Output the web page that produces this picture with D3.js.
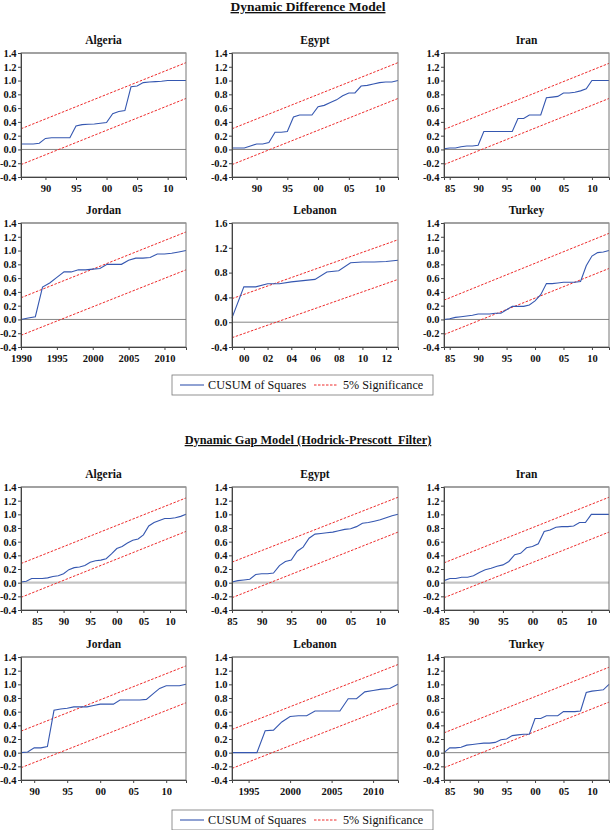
<!DOCTYPE html>
<html><head><meta charset="utf-8">
<script src="https://cdn.jsdelivr.net/npm/d3@7"></script>
<style>
body{margin:0;background:#fff;}
svg text{font-family:"Liberation Serif","Times New Roman",serif;white-space:pre;}
</style>
</head><body>
<svg id="chart" width="610" height="830"></svg>
<script>
// ---------------- DATA ----------------
const titles = ["Dynamic Difference Model", "Dynamic Gap Model (Hodrick-Prescott  Filter)"];
const countries = ["Algeria", "Egypt", "Iran", "Jordan", "Lebanon", "Turkey"];
const legendLabels = ["CUSUM of Squares", "5% Significance"];

// Dynamic Difference Model: CUSUM of squares (first year + yearly values)
const ddStart = [1986, 1986, 1984, 1990, 1999, 1984];
const ddAlgeria = [0.08,0.08,0.08,0.09,0.16,0.17,0.17,0.17,0.17,0.34,0.36,0.365,0.37,0.38,0.39,0.52,0.55,0.565,0.91,0.92,0.97,0.98,0.985,0.99,1.0,1.0,1.0,1.0];
const ddEgypt = [0.02,0.02,0.02,0.05,0.08,0.08,0.10,0.25,0.25,0.26,0.47,0.50,0.50,0.50,0.62,0.64,0.68,0.72,0.78,0.82,0.82,0.92,0.93,0.95,0.97,0.98,0.98,1.0];
const ddIran = [0.01,0.02,0.02,0.04,0.05,0.05,0.06,0.26,0.26,0.26,0.26,0.26,0.26,0.45,0.45,0.50,0.50,0.50,0.75,0.76,0.77,0.82,0.82,0.83,0.85,0.88,1.0,1.0,1.0,1.0];
const ddJordan = [0.0,0.02,0.04,0.47,0.53,0.61,0.69,0.69,0.72,0.72,0.73,0.74,0.80,0.80,0.80,0.86,0.89,0.89,0.90,0.95,0.95,0.96,0.98,1.0];
const ddLebanon = [0.07,0.57,0.57,0.62,0.62,0.65,0.67,0.69,0.81,0.83,0.96,0.97,0.97,0.98,1.0];
const ddTurkey = [0.0,0.01,0.03,0.04,0.05,0.06,0.08,0.08,0.08,0.09,0.09,0.14,0.19,0.19,0.19,0.21,0.27,0.36,0.52,0.52,0.53,0.54,0.54,0.54,0.55,0.78,0.92,0.97,0.98,1.0];
// 5% significance bounds: [upper start, upper end, lower start, lower end]
const ddBounds = [[0.30,1.26,-0.22,0.74],[0.30,1.26,-0.22,0.74],[0.29,1.25,-0.22,0.74],[0.315,1.27,-0.23,0.72],[0.38,1.33,-0.25,0.69],[0.28,1.25,-0.22,0.74]];

// Dynamic Gap Model (HP filter)
const hpStart = [1982, 1985, 1985, 1988, 1993, 1984];
const hpAlgeria = [0.01,0.02,0.06,0.06,0.06,0.07,0.09,0.10,0.13,0.19,0.22,0.23,0.25,0.30,0.32,0.33,0.35,0.42,0.50,0.53,0.58,0.62,0.64,0.70,0.83,0.88,0.91,0.94,0.94,0.95,0.97,1.0];
const hpEgypt = [0.01,0.03,0.04,0.05,0.12,0.13,0.13,0.14,0.25,0.31,0.33,0.46,0.52,0.65,0.71,0.72,0.73,0.74,0.76,0.78,0.79,0.82,0.87,0.88,0.90,0.92,0.95,0.98,1.0];
const hpIran = [0.03,0.06,0.06,0.08,0.08,0.10,0.15,0.19,0.21,0.24,0.26,0.31,0.41,0.43,0.51,0.53,0.57,0.75,0.77,0.81,0.82,0.82,0.83,0.88,0.88,1.0,1.0,1.0,1.0];
const hpJordan = [0.0,0.01,0.07,0.07,0.09,0.62,0.64,0.65,0.67,0.67,0.67,0.69,0.71,0.71,0.71,0.77,0.77,0.77,0.77,0.78,0.86,0.94,0.98,0.98,0.98,1.0];
const hpLebanon = [0,0,0,0,0.32,0.33,0.45,0.53,0.54,0.54,0.61,0.61,0.61,0.61,0.79,0.79,0.89,0.91,0.93,0.94,1.0];
const hpTurkey = [0.0,0.07,0.07,0.08,0.11,0.12,0.13,0.14,0.14,0.15,0.19,0.20,0.25,0.26,0.27,0.27,0.50,0.50,0.54,0.54,0.54,0.60,0.60,0.60,0.61,0.88,0.90,0.91,0.92,1.0];
const hpBounds = [[0.28,1.24,-0.215,0.75],[0.30,1.25,-0.22,0.74],[0.29,1.25,-0.22,0.74],[0.315,1.27,-0.22,0.73],[0.34,1.29,-0.23,0.72],[0.29,1.25,-0.22,0.74]];

// Tick values
const yTicksStd = [-0.4,-0.2,0.0,0.2,0.4,0.6,0.8,1.0,1.2,1.4];
const yTicksLeb = [-0.4,0.0,0.4,0.8,1.2,1.6];
const ddXTicks = [[1990,1995,2000,2005,2010],[1990,1995,2000,2005,2010],[1985,1990,1995,2000,2005,2010],[1990,1995,2000,2005,2010],[2000,2002,2004,2006,2008,2010,2012],[1985,1990,1995,2000,2005,2010]];
const hpXTicks = [[1985,1990,1995,2000,2005,2010],[1985,1990,1995,2000,2005,2010],[1985,1990,1995,2000,2005,2010],[1990,1995,2000,2005,2010],[1995,2000,2005,2010],[1985,1990,1995,2000,2005,2010]];
const ddXFull = [false,false,false,true,false,false];
const hpXFull = [false,false,false,false,true,false];

// ---------------- LAYOUT ----------------
const svg = d3.select("#chart");
const cols = [[21,186],[232,398],[444,609]];
const rows = [[53,177],[223,347],[487,610],[657,780]];
const blue = "#3557b0", red = "#ee2a2a";

function drawPanel(rowIdx, colIdx, name, start, vals, bounds, yTicks, yMax, xTicks, fullYear, zeroStyle){
  const [x0,x1] = cols[colIdx], [y0,y1] = rows[rowIdx];
  const years = vals.map((v,i)=>start+i);
  const end = years[years.length-1];
  const x = d3.scaleLinear().domain([start,end]).range([x0,x1]);
  const y = d3.scaleLinear().domain([-0.4,yMax]).range([y1,y0]);
  const g = svg.append("g");
  g.append("text").attr("x",(x0+x1)/2).attr("y",y0-9).attr("text-anchor","middle")
    .attr("font-size",11.5).attr("font-weight","bold").attr("fill","#111").text(name);
  g.append("line").attr("x1",x0).attr("x2",x1).attr("y1",y(0)).attr("y2",y(0))
    .attr("stroke",zeroStyle.color).attr("stroke-width",zeroStyle.w);
  const sig = d3.line().x(d=>x(d[0])).y(d=>y(d[1]));
  [[bounds[0],bounds[1]],[bounds[2],bounds[3]]].forEach(b=>{
    g.append("path").attr("d",sig([[start,b[0]],[end,b[1]]]))
      .attr("fill","none").attr("stroke",red).attr("stroke-width",1).attr("stroke-dasharray","2.5,1.5");
  });
  const ln = d3.line().x((d,i)=>x(years[i])).y(d=>y(d));
  g.append("path").attr("d",ln(vals)).attr("fill","none").attr("stroke",blue).attr("stroke-width",1.1);
  g.append("rect").attr("x",x0).attr("y",y0).attr("width",x1-x0).attr("height",y1-y0)
    .attr("fill","none").attr("stroke","#777").attr("stroke-width",1);
  g.append("line").attr("x1",x0).attr("x2",x1).attr("y1",y0).attr("y2",y0).attr("stroke","#999").attr("stroke-width",1.5);
  const ya = d3.axisLeft(y).tickValues(yTicks).tickSize(3).tickFormat(d=>d.toFixed(1).replace("-0.0","0.0"));
  const yg = g.append("g").attr("transform",`translate(${x0},0)`).call(ya);
  yg.select(".domain").attr("stroke","#444");
  yg.selectAll(".tick line").attr("stroke","#444");
  yg.selectAll("text").attr("font-size",10.5).attr("font-weight","bold").attr("fill","#111")
    .attr("font-family","Liberation Serif, serif").attr("dx","1.5");
  const xa = d3.axisBottom(x).tickValues(xTicks).tickSize(3)
    .tickFormat(d=> fullYear ? String(d) : String(d%100).padStart(2,"0"));
  const xg = g.append("g").attr("transform",`translate(0,${y1})`).call(xa);
  xg.select(".domain").attr("stroke","#444");
  xg.selectAll(".tick line").attr("stroke","#444");
  xg.selectAll("text").attr("font-size",10.5).attr("font-weight","bold").attr("fill","#111")
    .attr("font-family","Liberation Serif, serif").attr("dy","0.9em");
}

function drawLegend(cy){
  const g = svg.append("g");
  g.append("rect").attr("x",172).attr("y",cy-10).attr("width",261).attr("height",20)
    .attr("fill","#fff").attr("stroke","#777").attr("stroke-width",0.8);
  g.append("line").attr("x1",180).attr("x2",204).attr("y1",cy).attr("y2",cy).attr("stroke",blue).attr("stroke-width",1.1);
  g.append("text").attr("x",208).attr("y",cy+4).attr("font-size",12.2).attr("fill","#111").text(legendLabels[0]);
  g.append("line").attr("x1",314).attr("x2",338).attr("y1",cy).attr("y2",cy).attr("stroke",red).attr("stroke-width",1).attr("stroke-dasharray","2.5,1.5");
  g.append("text").attr("x",343).attr("y",cy+4).attr("font-size",12.2).attr("fill","#111").text(legendLabels[1]);
}

function drawTitle(txt, cy, fs){
  svg.append("text").attr("x",308).attr("y",cy).attr("text-anchor","middle")
    .attr("font-size",fs).attr("font-weight","bold").attr("fill","#111")
    .attr("text-decoration","underline").text(txt);
}

drawTitle(titles[0], 11, 13.5);
const ddData = [ddAlgeria, ddEgypt, ddIran, ddJordan, ddLebanon, ddTurkey];
ddData.forEach((v,i)=>{
  const r = Math.floor(i/3), c = i%3;
  drawPanel(r, c, countries[i], ddStart[i], v, ddBounds[i], i===4?yTicksLeb:yTicksStd, i===4?1.6:1.4,
    ddXTicks[i], ddXFull[i], {color:"#666", w:0.8});
});
drawLegend(385);

drawTitle(titles[1], 444, 12.3);
const hpData = [hpAlgeria, hpEgypt, hpIran, hpJordan, hpLebanon, hpTurkey];
hpData.forEach((v,i)=>{
  const r = 2 + Math.floor(i/3), c = i%3;
  drawPanel(r, c, countries[i], hpStart[i], v, hpBounds[i], yTicksStd, 1.4,
    hpXTicks[i], hpXFull[i], r===2 ? {color:"#c4c4c4", w:2.2} : {color:"#666", w:0.8});
});
drawLegend(820);
</script>
</body></html>
